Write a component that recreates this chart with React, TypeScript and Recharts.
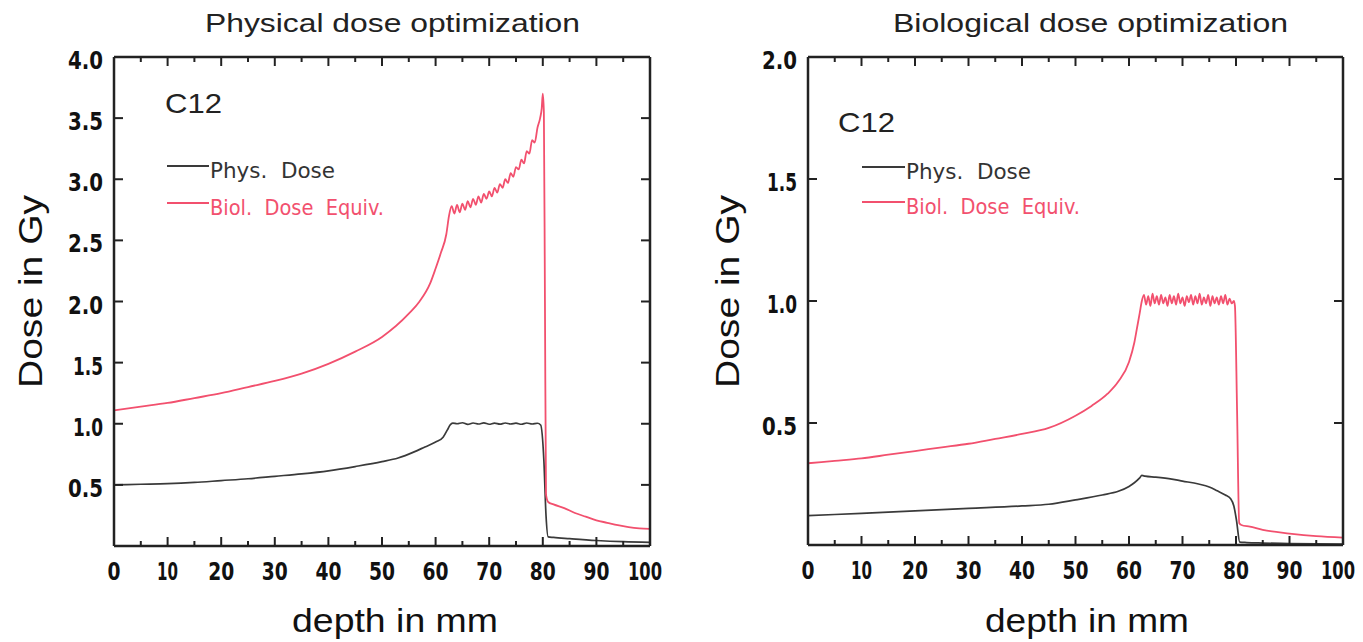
import React from 'react';
import { LineChart, Line, XAxis, YAxis } from 'recharts';

// tick values
const depthTicks = [0, 5, 10, 15, 20, 25, 30, 35, 40, 45, 50, 55, 60, 65, 70, 75, 80, 85, 90, 95, 100];
const leftDoseTicks = [0.5, 1.0, 1.5, 2.0, 2.5, 3.0, 3.5, 4.0];
const rightDoseTicks = [0.5, 1.0, 1.5, 2.0];

// Physical dose optimization - physical dose
const lPhysDepth = [0, 5, 10, 15, 20, 25, 30, 35, 40, 45, 50, 53, 56, 58, 60, 61.4, 62.2, 62.7, 63.2,
  64, 65, 66, 67, 68, 69, 70, 71, 72, 73, 74, 75, 76, 77, 78, 79, 79.6, 80.2, 80.6, 81, 82, 85, 90, 95, 100];
const lPhysDose = [0.5, 0.505, 0.51, 0.52, 0.535, 0.55, 0.57, 0.59, 0.615, 0.65, 0.69, 0.72, 0.77, 0.81, 0.85, 0.89, 0.95, 0.99, 1.005,
  1.0, 1.008, 0.995, 1.006, 0.998, 1.007, 0.996, 1.005, 0.997, 1.006, 0.998, 1.005, 0.996, 1.006, 0.998, 1.004, 0.99, 0.7, 0.25, 0.075, 0.07, 0.06, 0.045, 0.035, 0.03];

// Physical dose optimization - biological dose equivalent
const lBiolDepth = [0, 5, 10, 15, 20, 25, 30, 35, 40, 45, 50, 55, 57, 59, 60, 61, 62, 62.5, 63,
  63.5, 64, 64.5, 65, 65.5, 66, 66.5, 67, 67.5, 68, 68.5, 69, 69.5, 70, 70.5, 71, 71.5, 72, 72.5, 73, 73.5,
  74, 74.5, 75, 75.5, 76, 76.5, 77, 77.5, 78, 78.5, 79, 79.5, 79.8, 80, 80.2, 80.4, 80.6,
  81, 82, 84, 86, 88, 90, 92, 94, 96, 98, 100];
const lBiolDose = [1.11, 1.14, 1.17, 1.21, 1.25, 1.3, 1.35, 1.41, 1.49, 1.59, 1.71, 1.9, 2.0, 2.15, 2.27, 2.4, 2.55, 2.7, 2.78,
  2.72, 2.79, 2.73, 2.8, 2.75, 2.82, 2.77, 2.84, 2.79, 2.86, 2.81, 2.88, 2.84, 2.9, 2.86, 2.93, 2.89, 2.96, 2.93, 3.0, 2.97,
  3.05, 3.02, 3.1, 3.08, 3.16, 3.13, 3.23, 3.21, 3.32, 3.3, 3.42, 3.5, 3.58, 3.7, 3.55, 2.0, 0.42,
  0.36, 0.34, 0.31, 0.27, 0.24, 0.21, 0.19, 0.17, 0.155, 0.145, 0.14];

// Biological dose optimization - physical dose
const rPhysDepth = [0, 10, 20, 30, 40, 45, 50, 55, 58, 60, 61, 62, 62.4, 63, 65, 68, 70, 73, 75, 76.5, 78, 79, 79.6, 80.1, 80.7, 82, 85, 90, 100];
const rPhysDose = [0.12, 0.13, 0.14, 0.15, 0.16, 0.167, 0.185, 0.205, 0.22, 0.24, 0.255, 0.275, 0.285, 0.282, 0.278, 0.27, 0.262, 0.25, 0.238, 0.222, 0.205, 0.19, 0.16, 0.1, 0.012, 0.01, 0.008, 0.006, 0.004];

// Biological dose optimization - biological dose equivalent
const rBiolDepth = [0, 5, 10, 15, 20, 25, 30, 35, 40, 45, 50, 53, 56, 58, 60, 61, 61.5, 62, 62.4,
  62.8, 63.2, 63.6, 64.0, 64.4, 64.8, 65.2, 65.6, 66.0, 66.4, 66.8, 67.2, 67.6, 68.0, 68.4, 68.8, 69.2, 69.6, 70.0,
  70.4, 70.8, 71.2, 71.6, 72.0, 72.4, 72.8, 73.2, 73.6, 74.0, 74.4, 74.8, 75.2, 75.6, 76.0, 76.4, 76.8, 77.2,
  77.6, 78.0, 78.4, 78.8, 79.2, 79.6, 79.8, 80.2, 80.6, 81, 82.6, 85, 90, 95, 100];
const rBiolDose = [0.335, 0.345, 0.355, 0.37, 0.385, 0.4, 0.415, 0.435, 0.455, 0.48, 0.53, 0.57, 0.62, 0.67, 0.75, 0.83, 0.89, 0.95, 1.0,
  1.025, 0.985, 1.02, 0.98, 1.03, 0.99, 1.02, 0.985, 1.025, 0.99, 1.015, 0.98, 1.025, 0.99, 1.02, 0.985, 1.03, 0.99, 1.015,
  0.98, 1.02, 0.995, 1.025, 0.985, 1.02, 0.99, 1.03, 0.985, 1.015, 0.99, 1.025, 0.98, 1.02, 0.99, 1.015, 0.985, 1.02,
  0.99, 1.025, 0.985, 1.01, 0.99, 1.0, 0.98, 0.55, 0.09, 0.082, 0.075, 0.062, 0.047, 0.036, 0.03];

const zip = (depth: number[], dose: number[]) => depth.map((d, i) => ({ depth: d, dose: dose[i] }));

const AXIS = '#222';
const BLACK = '#3a3a3a';
const RED = '#f2506e';
const TICK_FONT = "'Liberation Sans Narrow', 'DejaVu Sans Condensed', 'Arial Narrow', sans-serif";
const SANS = "'Liberation Sans', Arial, sans-serif";

// approximate widths of the narrow tick digits in the original
const labelWidth = (s: string) =>
  s.replace('.', '').length * 13 + (s.includes('.') ? 6 : 0) - (s.match(/1/g) || []).length * 5;

const BottomTick = (props: any) => {
  const { x, y, payload } = props;
  const v = payload.value;
  const major = v % 10 === 0;
  const s = String(v);
  return (
    <g>
      <line x1={x} y1={y} x2={x} y2={y - (major ? 9 : 5)} stroke={AXIS} strokeWidth={2} />
      {major && (
        <text x={v === 100 ? x - 5 : x} y={y + 34} textAnchor="middle" fontFamily={TICK_FONT} fontSize={25} fontWeight="bold" fill="#111"
          textLength={labelWidth(s)} lengthAdjust="spacingAndGlyphs">
          {s}
        </text>
      )}
    </g>
  );
};

const TopTick = (props: any) => {
  const { x, y, payload } = props;
  const major = payload.value % 10 === 0;
  return <line x1={x} y1={y} x2={x} y2={y + (major ? 9 : 5)} stroke={AXIS} strokeWidth={2} />;
};

const LeftTick = (props: any) => {
  const { x, y, payload } = props;
  const s = payload.value.toFixed(1);
  return (
    <g>
      <line x1={x} y1={y} x2={x + 9} y2={y} stroke={AXIS} strokeWidth={2} />
      <text x={x - 11} y={y + 12} textAnchor="end" fontFamily={TICK_FONT} fontSize={25} fontWeight="bold" fill="#111"
        textLength={labelWidth(s) + 3} lengthAdjust="spacingAndGlyphs">
        {s}
      </text>
    </g>
  );
};

const RightTick = (props: any) => {
  const { x, y } = props;
  return <line x1={x} y1={y} x2={x - 9} y2={y} stroke={AXIS} strokeWidth={2} />;
};

interface PanelProps {
  left: number;
  width: number;
  margin: { top: number; right: number; bottom: number; left: number };
  yMax: number;
  yTicks: number[];
  phys: { depth: number; dose: number }[];
  biol: { depth: number; dose: number }[];
}

const Panel: React.FC<PanelProps> = ({ left, width, margin, yMax, yTicks, phys, biol }) => (
  <div style={{ position: 'absolute', left, top: 0 }}>
    <LineChart width={width} height={642} margin={margin}>
      <XAxis xAxisId="bottom" dataKey="depth" type="number" domain={[0, 100]} ticks={depthTicks} interval={0}
        height={40} tickSize={0} tickMargin={0} tickLine={false} tick={<BottomTick />}
        axisLine={{ stroke: AXIS, strokeWidth: 2.5 }} allowDataOverflow />
      <XAxis xAxisId="top" orientation="top" dataKey="depth" type="number" domain={[0, 100]} ticks={depthTicks} interval={0}
        height={10} tickSize={0} tickMargin={0} tickLine={false} tick={<TopTick />}
        axisLine={{ stroke: AXIS, strokeWidth: 2.5 }} allowDataOverflow />
      <YAxis yAxisId="left" type="number" domain={[0, yMax]} ticks={yTicks} interval={0} width={60}
        tickSize={0} tickMargin={0} tickLine={false} tick={<LeftTick />}
        axisLine={{ stroke: AXIS, strokeWidth: 2.5 }} allowDataOverflow />
      <YAxis yAxisId="right" orientation="right" type="number" domain={[0, yMax]} ticks={yTicks} interval={0} width={10}
        tickSize={0} tickMargin={0} tickLine={false} tick={<RightTick />}
        axisLine={{ stroke: AXIS, strokeWidth: 2.5 }} allowDataOverflow />
      <Line xAxisId="bottom" yAxisId="left" data={phys} dataKey="dose" type="monotone" stroke={BLACK}
        strokeWidth={1.7} dot={false} isAnimationActive={false} />
      <Line xAxisId="bottom" yAxisId="left" data={biol} dataKey="dose" type="monotone" stroke={RED}
        strokeWidth={1.8} dot={false} isAnimationActive={false} />
    </LineChart>
  </div>
);

const legendText = { whiteSpace: 'pre' as const };

const Overlay = () => (
  <svg width={1363} height={642} style={{ position: 'absolute', left: 0, top: 0, pointerEvents: 'none' }}>
    <text x={205} y={32} fontFamily={SANS} fontSize={26} fill="#222" textLength={375} lengthAdjust="spacingAndGlyphs">
      Physical dose optimization
    </text>
    <text x={893} y={32} fontFamily={SANS} fontSize={26} fill="#222" textLength={395} lengthAdjust="spacingAndGlyphs">
      Biological dose optimization
    </text>

    <text x={292} y={632} fontFamily={SANS} fontSize={33} fill="#111" textLength={206} lengthAdjust="spacingAndGlyphs">
      depth in mm
    </text>
    <text x={985} y={632} fontFamily={SANS} fontSize={33} fill="#111" textLength={204} lengthAdjust="spacingAndGlyphs">
      depth in mm
    </text>

    <text transform="translate(42,388) rotate(-90)" fontFamily={SANS} fontSize={34} fill="#111" textLength={193} lengthAdjust="spacingAndGlyphs">
      Dose in Gy
    </text>
    <text transform="translate(739,388) rotate(-90)" fontFamily={SANS} fontSize={34} fill="#111" textLength={193} lengthAdjust="spacingAndGlyphs">
      Dose in Gy
    </text>

    <text x={165} y={113} fontFamily={SANS} fontSize={28} fill="#222" textLength={57} lengthAdjust="spacingAndGlyphs">C12</text>
    <text x={838} y={132} fontFamily={SANS} fontSize={28} fill="#222" textLength={57} lengthAdjust="spacingAndGlyphs">C12</text>

    <line x1={167} y1={166} x2={209} y2={166} stroke={BLACK} strokeWidth={2} />
    <text x={210} y={178} style={legendText} fontFamily={TICK_FONT} fontSize={22} fill="#333" textLength={125} lengthAdjust="spacingAndGlyphs">Phys.  Dose</text>
    <line x1={167} y1={203} x2={209} y2={203} stroke={RED} strokeWidth={2} />
    <text x={210} y={215} style={legendText} fontFamily={TICK_FONT} fontSize={22} fill={RED} textLength={174} lengthAdjust="spacingAndGlyphs">Biol.  Dose  Equiv.</text>

    <line x1={862} y1={167} x2={905} y2={167} stroke={BLACK} strokeWidth={2} />
    <text x={906} y={179} style={legendText} fontFamily={TICK_FONT} fontSize={22} fill="#333" textLength={125} lengthAdjust="spacingAndGlyphs">Phys.  Dose</text>
    <line x1={862} y1={202} x2={905} y2={202} stroke={RED} strokeWidth={2} />
    <text x={906} y={214} style={legendText} fontFamily={TICK_FONT} fontSize={22} fill={RED} textLength={174} lengthAdjust="spacingAndGlyphs">Biol.  Dose  Equiv.</text>
  </svg>
);

const App: React.FC = () => (
  <div style={{ position: 'absolute', left: 0, top: 0, width: 1363, height: 642, background: '#fff' }}>
    <Panel left={0} width={680} margin={{ top: 47, right: 20, bottom: 56, left: 54 }}
      yMax={4} yTicks={leftDoseTicks} phys={zip(lPhysDepth, lPhysDose)} biol={zip(lBiolDepth, lBiolDose)} />
    <Panel left={690} width={673} margin={{ top: 47, right: 10, bottom: 57, left: 58 }}
      yMax={2} yTicks={rightDoseTicks} phys={zip(rPhysDepth, rPhysDose)} biol={zip(rBiolDepth, rBiolDose)} />
    <Overlay />
  </div>
);

export default App;
